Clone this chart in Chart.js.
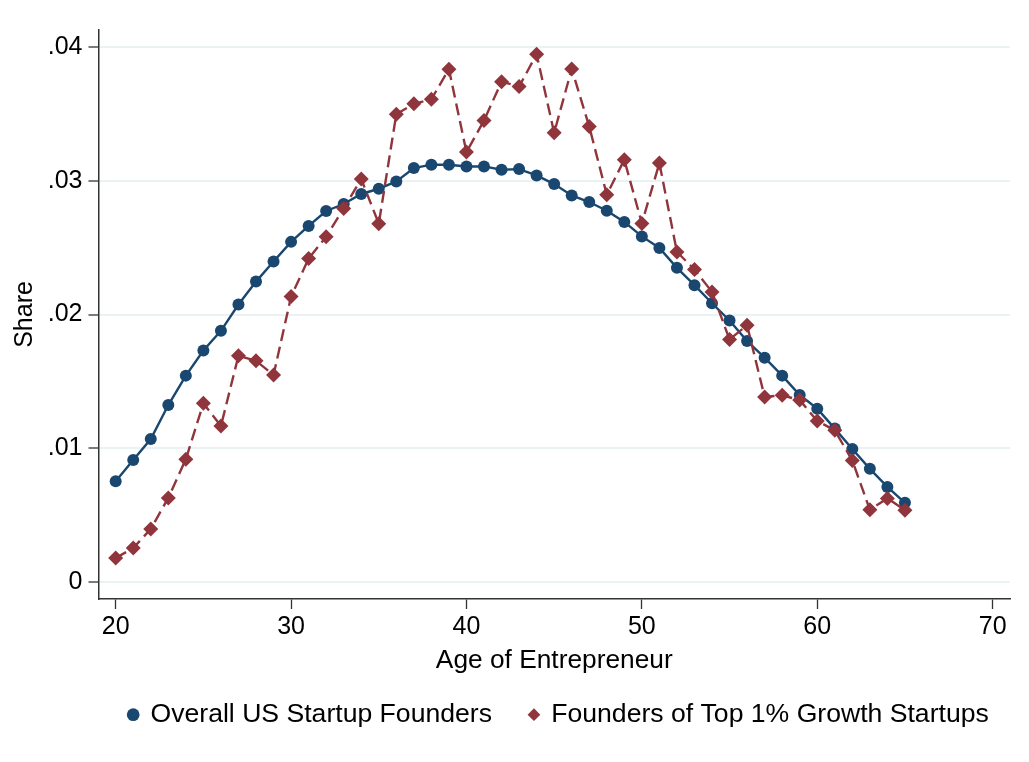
<!DOCTYPE html>
<html>
<head>
<meta charset="utf-8">
<script src="https://cdn.jsdelivr.net/npm/chart.js@4/dist/chart.umd.min.js"></script>
<style>
  html, body { margin: 0; padding: 0; background: #fff; }
  #wrap { width: 1029px; height: 762px; }
</style>
</head>
<body>
<div id="wrap"><canvas id="ageChart" width="1029" height="762"></canvas></div>
<script>
const ages = [20, 21, 22, 23, 24, 25, 26, 27, 28, 29, 30, 31, 32, 33, 34, 35, 36, 37, 38, 39, 40, 41, 42,
              43, 44, 45, 46, 47, 48, 49, 50, 51, 52, 53, 54, 55, 56, 57, 58, 59, 60, 61, 62, 63, 64, 65];

const overallFounders = [0.00754, 0.00913, 0.01069, 0.01323, 0.01543, 0.01731, 0.01878, 0.02075, 0.02246, 0.02396,
                         0.02543, 0.02662, 0.02774, 0.02826, 0.02901, 0.02940, 0.02995, 0.03095, 0.03120, 0.03120,
                         0.03107, 0.03107, 0.03082, 0.03087, 0.03040, 0.02975, 0.02890, 0.02841, 0.02776, 0.02692,
                         0.02584, 0.02498, 0.02349, 0.02219, 0.02084, 0.01955, 0.01801, 0.01677, 0.01543, 0.01398,
                         0.01296, 0.01147, 0.00995, 0.00846, 0.00711, 0.00592];

const topGrowthFounders = [0.00179, 0.00254, 0.00396, 0.00629, 0.00918, 0.01336, 0.01166, 0.01692, 0.01654, 0.01547,
                           0.02134, 0.02418, 0.02582, 0.02793, 0.03013, 0.02679, 0.03498, 0.03575, 0.03610, 0.03834,
                           0.03214, 0.03450, 0.03741, 0.03704, 0.03946, 0.03358, 0.03836, 0.03405, 0.02896, 0.03157,
                           0.02681, 0.03132, 0.02468, 0.02336, 0.02169, 0.01813, 0.01920, 0.01383, 0.01396, 0.01360,
                           0.01204, 0.01134, 0.00908, 0.00540, 0.00625, 0.00537];

const xTicks = [20, 30, 40, 50, 60, 70];
const yTicks = [0, 0.01, 0.02, 0.03, 0.04];

const navy = '#1a476f';
const maroon = '#90353b';
const axisColor = '#333';
const gridColor = '#eaf2f3';
const fontFamily = '"Liberation Sans", Arial, Helvetica, sans-serif';

// Stata style: ".01" instead of "0.01"
function shareLabel(v) {
    return v === 0 ? '0' : String(v).replace(/^0\./, '.');
}

// move the legend so it sits where Stata puts it
const legendShift = {
    id: 'legendShift',
    afterLayout(chart) {
        const lg = chart.legend;
        lg.left += 54; lg.right += 54;
        lg.top -= 24; lg.bottom -= 24;
    }
};

new Chart(document.getElementById('ageChart'), {
    type: 'line',
    data: {
        datasets: [{
            label: 'Overall US Startup Founders',
            data: ages.map((a, i) => ({ x: a, y: overallFounders[i] })),
            borderColor: navy,
            backgroundColor: navy,
            borderWidth: 2.4,
            pointStyle: 'circle',
            pointRadius: 6,
            pointBorderWidth: 0,
            order: 1
        }, {
            label: 'Founders of Top 1% Growth Startups',
            data: ages.map((a, i) => ({ x: a, y: topGrowthFounders[i] })),
            borderColor: maroon,
            backgroundColor: maroon,
            borderWidth: 2.4,
            borderDash: [12, 6],
            pointStyle: 'rectRot',
            pointRadius: 7.5,
            pointBorderWidth: 0,
            order: 0
        }]
    },
    options: {
        responsive: false,
        maintainAspectRatio: false,
        animation: false,
        layout: { padding: { top: 30, right: 19, bottom: 0, left: 0 } },
        plugins: {
            tooltip: { enabled: false },
            legend: {
                position: 'bottom',
                labels: {
                    usePointStyle: true,
                    boxWidth: 8,
                    boxHeight: 9,
                    padding: 38,
                    color: '#000',
                    font: { family: fontFamily, size: 26.6 },
                    sort: (a, b) => a.datasetIndex - b.datasetIndex
                }
            }
        },
        scales: {
            x: {
                type: 'linear',
                min: 19.02,
                max: 70.99,
                afterBuildTicks: scale => { scale.ticks = xTicks.map(v => ({ value: v })); },
                afterFit: scale => { scale.height = 88.4; },
                ticks: {
                    padding: 3,
                    color: '#000',
                    font: { family: fontFamily, size: 25 },
                    maxRotation: 0
                },
                grid: {
                    drawOnChartArea: false,
                    drawTicks: true,
                    tickLength: 10,
                    tickColor: axisColor,
                    tickWidth: 1.3
                },
                border: { color: axisColor, width: 1.5 },
                title: {
                    display: true,
                    text: 'Age of Entrepreneur',
                    color: '#000',
                    font: { family: fontFamily, size: 26.3 },
                    padding: { top: 0, bottom: 11 }
                }
            },
            y: {
                min: -0.00127,
                max: 0.04127,
                afterBuildTicks: scale => { scale.ticks = yTicks.map(v => ({ value: v })); },
                afterFit: scale => { scale.width = 98.5; },
                ticks: {
                    padding: 6,
                    color: '#000',
                    font: { family: fontFamily, size: 25 },
                    callback: v => shareLabel(v)
                },
                grid: {
                    color: gridColor,
                    lineWidth: 2,
                    drawTicks: true,
                    tickLength: 10,
                    tickColor: axisColor,
                    tickWidth: 1.3
                },
                border: { color: axisColor, width: 1.5 },
                title: {
                    display: true,
                    text: 'Share',
                    color: '#000',
                    font: { family: fontFamily, size: 25 },
                    padding: { top: 10, bottom: 0 }
                }
            }
        }
    },
    plugins: [legendShift]
});
</script>
</body>
</html>
